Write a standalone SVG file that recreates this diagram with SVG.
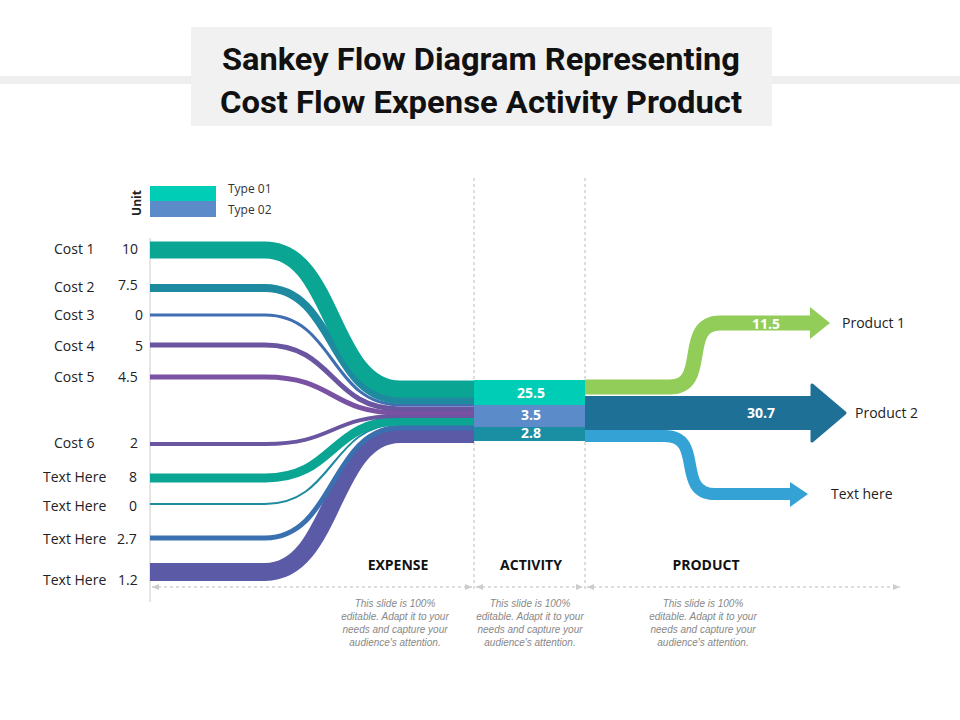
<svg xmlns="http://www.w3.org/2000/svg" width="960" height="720" viewBox="0 0 960 720">
<style>
.lbl{font-family:"Open Sans","Liberation Sans",sans-serif;font-size:14px;fill:#222}
.hd{font-family:"Open Sans","Liberation Sans",sans-serif;font-size:14px;font-weight:bold;fill:#111;text-anchor:middle}
.note{font-family:"Liberation Sans",sans-serif;font-size:10px;font-style:italic;fill:#888;text-anchor:middle}
.val{font-family:"Open Sans","Liberation Sans",sans-serif;font-size:14px;font-weight:bold;fill:#fff;text-anchor:middle}
.b{fill:none;stroke-linecap:butt}
.dash{stroke:#bbb;stroke-width:1;stroke-dasharray:3,3;fill:none}
</style>
<defs>
<marker id="ah" markerWidth="8" markerHeight="8" refX="7" refY="4" orient="auto-start-reverse"><path d="M0,1L7,4L0,7z" fill="#ccc"/></marker>
</defs>
<rect x="0" y="76" width="960" height="8" fill="#eeeeee"/>
<rect x="191" y="27" width="581" height="99" fill="#f1f1f1"/>
<g id="title" font-family="Roboto,'Liberation Sans',sans-serif" font-weight="bold" font-size="31" fill="#111" text-anchor="middle">
<text x="481" y="70" textLength="518" lengthAdjust="spacingAndGlyphs">Sankey Flow Diagram Representing</text>
<text x="481" y="113" textLength="522" lengthAdjust="spacingAndGlyphs">Cost Flow Expense Activity Product</text>
</g>
<g id="legend">
<rect x="150" y="186" width="66" height="15" fill="#00cdb5"/>
<rect x="150" y="201" width="66" height="16" fill="#5b8cc9"/>
<text x="141" y="203" transform="rotate(-90 141 203)" text-anchor="middle" font-family="'Open Sans','Liberation Sans',sans-serif" font-size="12" font-weight="bold" fill="#222">Unit</text>
<text x="228" y="193" font-family="'Open Sans','Liberation Sans',sans-serif" font-size="12" fill="#333">Type 01</text>
<text x="228" y="214" font-family="'Open Sans','Liberation Sans',sans-serif" font-size="12" fill="#333">Type 02</text>
</g>
<g id="axes">
<line x1="150" y1="238" x2="150" y2="602" stroke="#ccc"/>
<line x1="474" y1="178" x2="474" y2="590" class="dash"/>
<line x1="585" y1="178" x2="585" y2="590" class="dash"/>
<line x1="152" y1="587" x2="472" y2="587" class="dash" marker-start="url(#ah)" marker-end="url(#ah)"/>
<line x1="476" y1="587" x2="583" y2="587" class="dash" marker-start="url(#ah)" marker-end="url(#ah)"/>
<line x1="587" y1="587" x2="900" y2="587" class="dash" marker-start="url(#ah)" marker-end="url(#ah)"/>
</g>
<g id="connectors">
<path class="b" stroke="#5b5aa6" stroke-width="18" d="M150,572H265C335,572 330,434 400,434H474"/>
<path class="b" stroke="#3a70b0" stroke-width="5" d="M150,538H265C335,538 330,428 400,428H474"/>
<path class="b" stroke="#1e8aa0" stroke-width="2" d="M150,504H265C335,504 330,424 400,424H474"/>
<path class="b" stroke="#0aa593" stroke-width="9" d="M150,478H265C335,478 330,421 400,421H474"/>
<path class="b" stroke="#6a55a0" stroke-width="4" d="M150,444H265C335,444 330,416 400,416H474"/>
<path class="b" stroke="#7a52a3" stroke-width="5" d="M150,377H265C335,377 330,413 400,413H474"/>
<path class="b" stroke="#6a55a0" stroke-width="5" d="M150,345H265C335,345 330,409 400,409H474"/>
<path class="b" stroke="#3f6fb0" stroke-width="3" d="M150,315H265C335,315 330,405 400,405H474"/>
<path class="b" stroke="#1e8aa0" stroke-width="8" d="M150,288H265C335,288 330,400 400,400H474"/>
<path class="b" stroke="#0aa593" stroke-width="17" d="M150,250H265C335,250 330,389 400,389H474"/>
<path class="b" stroke="#92cd5a" stroke-width="15" d="M585,387H670C710,387 680,323 720,323H812"/>
<path d="M810,307L830,323L810,339z" fill="#92cd5a"/>
<path class="b" stroke="#35a2d6" stroke-width="12" d="M585,436H665C705,436 675,494 715,494H792"/>
<path d="M790,482L808,494L790,507z" fill="#35a2d6"/>
<rect x="585" y="396" width="229" height="34" fill="#1f7096"/>
<path d="M812,385L845,413L812,441z" fill="#1f7096" stroke="#1f7096" stroke-width="3" stroke-linejoin="round"/>
</g>
<g id="activity">
<rect x="474" y="380" width="111" height="25" fill="#00cdb5"/>
<rect x="474" y="405" width="111" height="22" fill="#5b8cc9"/>
<rect x="474" y="427" width="111" height="14" fill="#1a8fa3"/>
<text class="val" x="531" y="398">25.5</text>
<text class="val" x="531" y="420">3.5</text>
<text class="val" x="531" y="438">2.8</text>
<text class="val" x="766" y="329">11.5</text>
<text class="val" x="761" y="418">30.7</text>
</g>
<g id="labels" class="lbl">
<text x="54" y="254">Cost 1</text><text x="122" y="254">10</text>
<text x="54" y="292">Cost 2</text><text x="118" y="290">7.5</text>
<text x="54" y="320">Cost 3</text><text x="135" y="320">0</text>
<text x="54" y="351">Cost 4</text><text x="135" y="351">5</text>
<text x="54" y="382">Cost 5</text><text x="118" y="382">4.5</text>
<text x="54" y="448">Cost 6</text><text x="130" y="448">2</text>
<text x="43" y="482">Text Here</text><text x="129" y="482">8</text>
<text x="43" y="511">Text Here</text><text x="129" y="511">0</text>
<text x="43" y="544">Text Here</text><text x="117" y="544">2.7</text>
<text x="43" y="585">Text Here</text><text x="118" y="585">1.2</text>
<text x="842" y="328">Product 1</text>
<text x="855" y="418">Product 2</text>
<text x="831" y="499">Text here</text>
</g>
<g id="headers">
<text class="hd" x="398" y="570">EXPENSE</text>
<text class="hd" x="531" y="570">ACTIVITY</text>
<text class="hd" x="706" y="570">PRODUCT</text>
</g>
<g id="notes" class="note">
<text x="395" y="607">This slide is 100%</text><text x="395" y="620">editable. Adapt it to your</text><text x="395" y="633">needs and capture your</text><text x="395" y="646">audience's attention.</text>
<text x="530" y="607">This slide is 100%</text><text x="530" y="620">editable. Adapt it to your</text><text x="530" y="633">needs and capture your</text><text x="530" y="646">audience's attention.</text>
<text x="703" y="607">This slide is 100%</text><text x="703" y="620">editable. Adapt it to your</text><text x="703" y="633">needs and capture your</text><text x="703" y="646">audience's attention.</text>
</g>
</svg>
